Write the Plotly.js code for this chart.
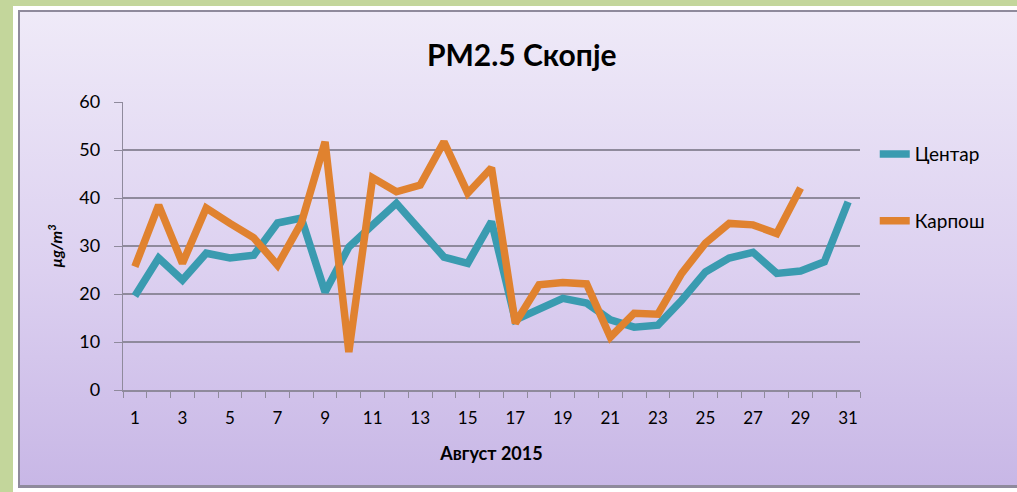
<!DOCTYPE html>
<html>
<head>
<meta charset="utf-8">
<script src="https://cdn.plot.ly/plotly-3.0.1.min.js"></script>
<style>
  html, body { margin: 0; padding: 0; width: 1017px; height: 492px; overflow: hidden; background: #c3d69b; }
  #frame { position: absolute; left: 13px; top: 6px; width: 1004px; height: 486px; background: #ffffff; }
  #panel { position: absolute; left: 18px; top: 10px; width: 999px; height: 478px;
           border-left: 2px solid #8f8a9c; border-top: 2px solid #8f8a9c; border-bottom: 3px solid #8f8a9c;
           background: linear-gradient(to bottom, #efeaf8 0%, #dcd0f0 55%, #c8b7e6 100%); box-sizing: border-box; }
  #chart { position: absolute; left: 0; top: 0; width: 1017px; height: 492px; }
</style>
</head>
<body>
<div id="frame"></div>
<div id="panel"></div>
<div id="chart"></div>
<script>
const days = [1,2,3,4,5,6,7,8,9,10,11,12,13,14,15,16,17,18,19,20,21,22,23,24,25,26,27,28,29,30,31];
const centar = [19.6,27.5,22.9,28.5,27.5,28.1,34.8,35.8,20.4,29.8,34.4,38.9,33.3,27.7,26.4,35.1,14.6,17.0,19.1,18.1,14.6,13.1,13.5,18.7,24.6,27.5,28.7,24.3,24.8,26.7,39.2];
const karposh = [25.7,38.5,26.4,37.9,34.7,31.7,26.0,34.8,51.7,7.9,44.2,41.3,42.7,51.7,41.0,46.3,13.9,21.9,22.4,22.1,11.0,16.0,15.8,24.3,30.6,34.7,34.4,32.6,42.1,null,null];
const xTickVals = [1,3,5,7,9,11,13,15,17,19,21,23,25,27,29,31];
const seriesNames = ['Центар', 'Карпош'];
const titleText = 'PM2.5 Скопје';
const xTitle = 'Август 2015';
const yTitle = 'µg/m<sup>3</sup>';

const FONT = 'Lato, "DejaVu Sans", sans-serif';

const traces = [
  { x: days, y: centar, name: seriesNames[0], mode: 'lines', type: 'scatter',
    legendgroup: 'a', line: { color: '#3a9bb0', width: 7.5 } },
  { x: days, y: karposh, name: seriesNames[1], mode: 'lines', type: 'scatter',
    legendgroup: 'b', line: { color: '#e0822f', width: 7.5 } }
];

const layout = {
  width: 1017, height: 492,
  margin: { l: 123, r: 157, t: 102, b: 102 },
  paper_bgcolor: 'rgba(0,0,0,0)',
  plot_bgcolor: 'rgba(0,0,0,0)',
  font: { family: FONT, color: '#000000', size: 16 },
  title: { text: '<b>' + titleText + '</b>', x: 0.513, xanchor: 'center', y: 0.888, yanchor: 'middle',
           yref: 'container', font: { family: FONT, size: 30, color: '#000' } },
  xaxis: {
    range: [0.5, 31.5], tickmode: 'array', tickvals: xTickVals, ticktext: xTickVals.map(String),
    ticks: '', showgrid: false, zeroline: false,
    showline: true, linecolor: '#8f8a9c', linewidth: 1.5,
    tickfont: { family: FONT, size: 17 }, ticklabelstandoff: 12,
    minor: { tick0: 0.5, dtick: 1, ticks: 'outside', ticklen: 6, tickcolor: '#8f8a9c', tickwidth: 1, showgrid: false },
    title: { text: '<b>' + xTitle + '</b>', font: { family: FONT, size: 18 }, standoff: 20 }
  },
  yaxis: {
    range: [0, 60], dtick: 10, tick0: 0,
    showgrid: true, gridcolor: '#8f8a9c', gridwidth: 1.2,
    zeroline: false, showline: true, linecolor: '#8f8a9c', linewidth: 1.2,
    ticks: 'outside', ticklen: 8, tickcolor: '#8f8a9c',
    tickfont: { family: FONT, size: 18 }, ticklabelstandoff: 10,
    title: { text: '<b><i>' + yTitle + '</i></b>', font: { family: FONT, size: 16 }, standoff: 12 }
  },
  showlegend: true,
  legend: {
    x: 1.02, xanchor: 'left', y: 0.885, yanchor: 'top',
    bgcolor: 'rgba(0,0,0,0)', font: { family: FONT, size: 19 },
    traceorder: 'grouped', tracegroupgap: 39, itemwidth: 30
  }
};

Plotly.newPlot('chart', traces, layout, { displayModeBar: false, staticPlot: true });
</script>
</body>
</html>
